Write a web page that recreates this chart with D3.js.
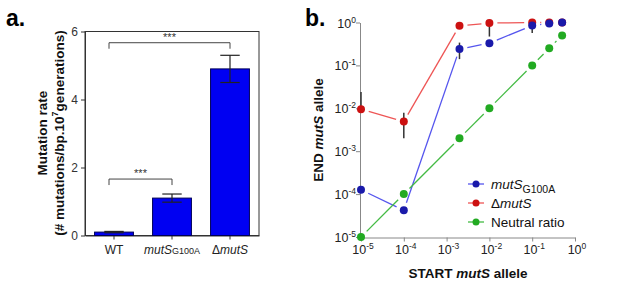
<!DOCTYPE html>
<html>
<head>
<meta charset="utf-8">
<script src="https://cdn.jsdelivr.net/npm/d3@7.9.0/dist/d3.min.js"></script>
<style>
  body { margin: 0; background: #fff; }
  svg { display: block; font-family: "Liberation Sans", Arial, sans-serif; }
</style>
</head>
<body>
<svg id="chart" width="617" height="291"></svg>
<script>
// ---- panel a data ----
const categories = ["WT", "mutSG100A", "dmutS"];
const rates = [0.1, 1.1, 4.9];
const rateErr = [0.02, 0.12, 0.4];
const rateTicks = [0, 2, 4, 6];
// significance brackets: [from index, to index, bracket height]
const brackets = [[0, 1, 1.66], [0, 2, 5.67]];

// ---- panel b data ----
const startFreq = [1e-5, 1e-4, 2e-3, 1e-2, 0.1, 0.25, 0.5];
const mutSG100A = [1.26e-4, 4.2e-5, 0.24, 0.33, 0.85, 0.95, 1.0];
const mutSG100ALow = [null, null, 0.14, null, 0.57, null, null];
const mutSG100AHigh = [null, null, 0.34, null, null, null, null];
const deltaMutS = [0.0095, 0.0049, 0.84, 0.97, 1.0, 1.0, 1.0];
const deltaMutSLow = [null, 0.002, null, 0.47, null, null, null];
const deltaMutSHigh = [0.024, 0.0079, null, null, null, null, null];
const neutralRatio = [1e-5, 1e-4, 2e-3, 1e-2, 0.1, 0.25, 0.5];
const logTicks = [-5, -4, -3, -2, -1, 0];

const svg = d3.select("#chart");

// ================= panel a =================
const ax = d3.scaleBand().domain(categories).range([85, 259]).paddingInner(0.33).paddingOuter(0.165);
const ay = d3.scaleLinear().domain([0, 6]).range([235.5, 31.5]);

svg.append("text").attr("x", 6).attr("y", 26)
  .attr("font-size", 23).attr("font-weight", "bold").text("a.");

const ga = svg.append("g");

// frame
ga.append("rect")
  .attr("x", 85).attr("y", ay(6))
  .attr("width", 259 - 85).attr("height", ay(0) - ay(6))
  .attr("fill", "none").attr("stroke", "#333").attr("stroke-width", 1);

ga.append("g")
  .attr("transform", "translate(85,0)")
  .call(d3.axisLeft(ay).tickValues(rateTicks).tickFormat(d3.format("d")).tickSize(4).tickSizeOuter(0))
  .call(g => g.select(".domain").attr("stroke", "#333"))
  .call(g => g.selectAll(".tick line").attr("stroke", "#333"))
  .call(g => g.selectAll(".tick text").attr("font-size", 12).attr("fill", "#333")
    .attr("font-family", "Liberation Sans, Arial, sans-serif"));

ga.append("g")
  .attr("transform", `translate(0,${ay(0)})`)
  .call(d3.axisBottom(ax).tickSize(4).tickSizeOuter(0).tickFormat(""))
  .call(g => g.select(".domain").attr("stroke", "#333"))
  .call(g => g.selectAll(".tick line").attr("stroke", "#333"));

// category labels
const catLab = ga.append("g").attr("font-size", 12).attr("fill", "#222").attr("text-anchor", "middle");
const cx = c => ax(c) + ax.bandwidth() / 2;
catLab.append("text").attr("x", cx("WT")).attr("y", 254).text("WT");
const t1 = catLab.append("text").attr("x", cx("mutSG100A")).attr("y", 254);
t1.append("tspan").attr("font-style", "italic").text("mutS");
t1.append("tspan").attr("font-size", 9).text("G100A");
const t2 = catLab.append("text").attr("x", cx("dmutS")).attr("y", 254);
t2.append("tspan").text("\u0394");
t2.append("tspan").attr("font-style", "italic").text("mutS");

// bars
ga.selectAll("rect.bar").data(categories).join("rect")
  .attr("class", "bar")
  .attr("x", d => ax(d)).attr("width", ax.bandwidth())
  .attr("y", (d, i) => ay(rates[i]))
  .attr("height", (d, i) => ay(0) - ay(rates[i]))
  .attr("fill", "#0000f2").attr("stroke", "#000055").attr("stroke-width", 1);

// error bars
categories.forEach((c, i) => {
  const x = cx(c), w = ax.bandwidth() * 0.25;
  const eb = ga.append("g").attr("stroke", "#222").attr("stroke-width", 1.2);
  eb.append("line").attr("x1", x).attr("x2", x).attr("y1", ay(rates[i] - rateErr[i])).attr("y2", ay(rates[i] + rateErr[i]));
  eb.append("line").attr("x1", x - w).attr("x2", x + w).attr("y1", ay(rates[i] + rateErr[i])).attr("y2", ay(rates[i] + rateErr[i]));
  eb.append("line").attr("x1", x - w).attr("x2", x + w).attr("y1", ay(rates[i] - rateErr[i])).attr("y2", ay(rates[i] - rateErr[i]));
});

// significance brackets
brackets.forEach(([a, b, h]) => {
  const x1 = cx(categories[a]) - 5, x2 = cx(categories[b]);
  const y = ay(h);
  ga.append("path")
    .attr("d", `M${x1},${y + 6}V${y}H${x2}V${y + 6}`)
    .attr("fill", "none").attr("stroke", "#444").attr("stroke-width", 1);
  ga.append("text").attr("x", (x1 + x2) / 2).attr("y", y - 2)
    .attr("text-anchor", "middle").attr("font-size", 11).attr("fill", "#333").text("***");
});

// y label
const yla = ga.append("g").attr("transform", "translate(47,133) rotate(-90)")
  .attr("text-anchor", "middle").attr("font-weight", "bold").attr("font-size", 13.5).attr("fill", "#111");
yla.append("text").attr("y", 0).text("Mutation rate");
const yl2 = yla.append("text").attr("y", 17);
yl2.append("tspan").text("(# mutations/bp.10");
yl2.append("tspan").attr("font-size", 9).attr("dy", -6).text("7");
yl2.append("tspan").attr("dy", 6).text("generations)");

// ================= panel b =================
const bx = d3.scaleLog().domain([1e-5, 1]).range([361, 575]);
const by = d3.scaleLog().domain([1e-5, 1]).range([237, 22.5]);

svg.append("text").attr("x", 305).attr("y", 26)
  .attr("font-size", 23).attr("font-weight", "bold").text("b.");

const gb = svg.append("g");

const tickVals = logTicks.map(e => Math.pow(10, e));
gb.append("g")
  .attr("transform", "translate(360,0)")
  .call(d3.axisLeft(by).tickValues(tickVals).tickSize(4).tickSizeOuter(0).tickFormat(""))
  .call(g => g.select(".domain").attr("stroke", "#888"))
  .call(g => g.selectAll(".tick line").attr("stroke", "#888"));
gb.append("g")
  .attr("transform", "translate(0,237.5)")
  .call(d3.axisBottom(bx).tickValues(tickVals).tickSize(4).tickSizeOuter(0).tickFormat(""))
  .call(g => g.select(".domain").attr("stroke", "#888"))
  .call(g => g.selectAll(".tick line").attr("stroke", "#888"));

function powLabel(parent, x, y, e, anchor) {
  const t = parent.append("text").attr("x", x).attr("y", y)
    .attr("text-anchor", anchor).attr("font-size", 12.5).attr("fill", "#222");
  t.append("tspan").text("10");
  t.append("tspan").attr("font-size", 8.5).attr("dy", -5).text(e === 0 ? "0" : "-" + (-e));
}
logTicks.forEach(e => {
  powLabel(gb, 356, by(Math.pow(10, e)) + 5, e, "end");
  powLabel(gb, bx(Math.pow(10, e)) + 2, 254, e, "middle");
});

// axis titles
const xt = gb.append("text").attr("x", 468).attr("y", 278).attr("text-anchor", "middle")
  .attr("font-weight", "bold").attr("font-size", 13.5).attr("fill", "#111");
xt.append("tspan").text("START ");
xt.append("tspan").attr("font-style", "italic").text("mutS");
xt.append("tspan").text(" allele");
const yt = gb.append("text").attr("transform", "translate(323,130) rotate(-90)").attr("text-anchor", "middle")
  .attr("font-weight", "bold").attr("font-size", 13.5).attr("fill", "#111");
yt.append("tspan").text("END ");
yt.append("tspan").attr("font-style", "italic").text("mutS");
yt.append("tspan").text(" allele");

const series = [
  { vals: deltaMutS, low: deltaMutSLow, high: deltaMutSHigh, line: "#ee5555", dot: "#cc1111" },
  { vals: mutSG100A, low: mutSG100ALow, high: mutSG100AHigh, line: "#5555ee", dot: "#1a1aaa" },
  { vals: neutralRatio, low: [], high: [], line: "#44bb44", dot: "#22aa22" }
];

const gap = 8;
function gappedSegments(pts) {
  const segs = [];
  for (let i = 0; i < pts.length - 1; i++) {
    const [x1, y1] = pts[i], [x2, y2] = pts[i + 1];
    const dx = x2 - x1, dy = y2 - y1, len = Math.hypot(dx, dy);
    if (len <= 2 * gap) continue;
    const ux = dx / len, uy = dy / len;
    segs.push([x1 + ux * gap, y1 + uy * gap, x2 - ux * gap, y2 - uy * gap]);
  }
  return segs;
}

series.forEach(s => {
  const pts = startFreq.map((f, i) => [bx(f), by(s.vals[i])]);
  gb.append("g").selectAll("line").data(gappedSegments(pts)).join("line")
    .attr("x1", d => d[0]).attr("y1", d => d[1]).attr("x2", d => d[2]).attr("y2", d => d[3])
    .attr("stroke", s.line).attr("stroke-width", 1.3);
  startFreq.forEach((f, i) => {
    const lo = s.low[i] ?? s.vals[i], hi = s.high[i] ?? s.vals[i];
    if (lo !== hi) {
      gb.append("line").attr("x1", bx(f)).attr("x2", bx(f)).attr("y1", by(lo)).attr("y2", by(hi))
        .attr("stroke", "#333").attr("stroke-width", 1.5);
    }
  });
  gb.append("g").selectAll("circle").data(pts).join("circle")
    .attr("cx", d => d[0]).attr("cy", d => d[1]).attr("r", 4)
    .attr("fill", s.dot);
});

// legend
const legendItems = [
  { s: series[1], label: t => { t.append("tspan").attr("font-style", "italic").text("mutS");
      t.append("tspan").attr("font-size", 10.5).attr("dy", 4).text("G100A"); } },
  { s: series[0], label: t => { t.append("tspan").text("\u0394");
      t.append("tspan").attr("font-style", "italic").text("mutS"); } },
  { s: series[2], label: t => { t.append("tspan").text("Neutral ratio"); } }
];
legendItems.forEach((it, i) => {
  const y = 184 + i * 19;
  gb.append("line").attr("x1", 468).attr("x2", 484).attr("y1", y).attr("y2", y)
    .attr("stroke", it.s.line).attr("stroke-width", 1.3);
  gb.append("circle").attr("cx", 476).attr("cy", y).attr("r", 3.5).attr("fill", it.s.dot);
  const t = gb.append("text").attr("x", 491).attr("y", y + 5).attr("font-size", 13.5).attr("fill", "#111");
  it.label(t);
});
</script>
</body>
</html>
